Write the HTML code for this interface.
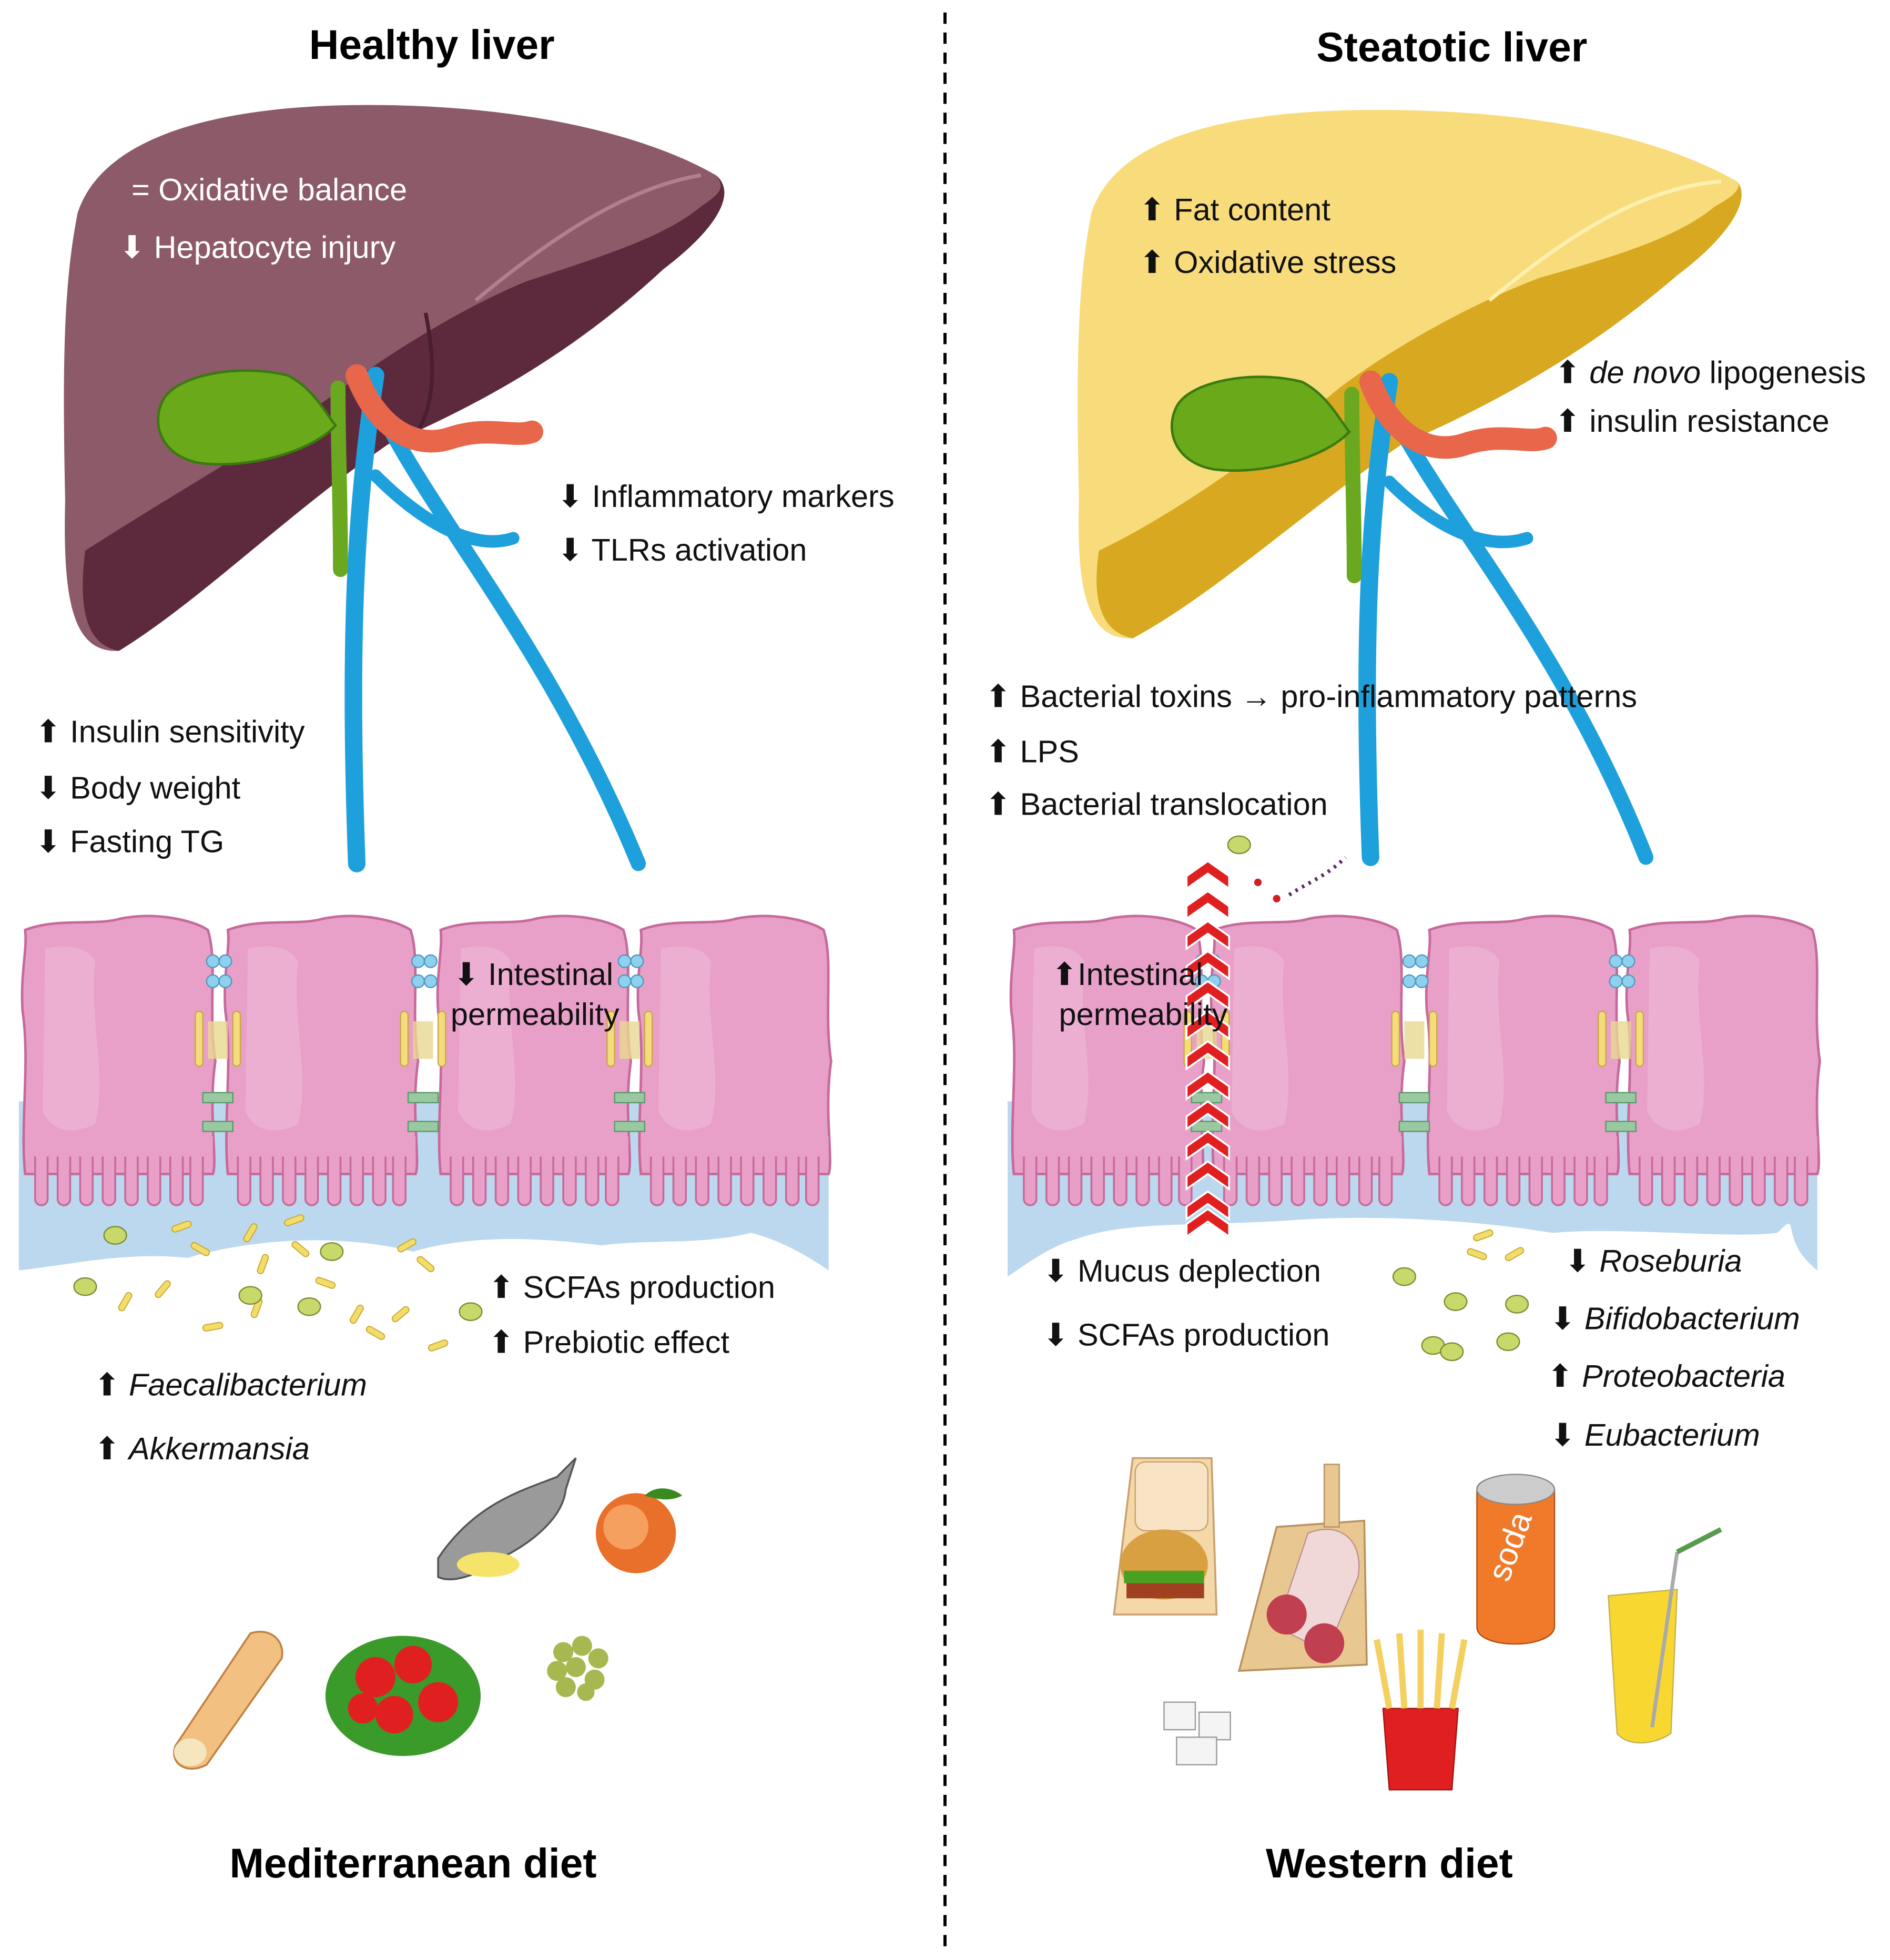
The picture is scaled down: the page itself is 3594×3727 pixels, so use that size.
<!DOCTYPE html>
<html><head><meta charset="utf-8"><style>
html,body{margin:0;padding:0;background:#fff}
svg{display:block}
text{font-family:"Liberation Sans",sans-serif}
</style></head><body>
<svg width="3594" height="3727" viewBox="0 0 1510 1566" xmlns="http://www.w3.org/2000/svg">
<defs>
<g id="cell">
<path d="M4,15 C30,5 60,12 80,6 C110,0 140,8 150,15 C158,40 150,80 156,120 C150,160 158,200 154,210 L4,210 C0,170 8,120 2,80 C0,50 6,30 4,15Z" fill="#e8a0c8" stroke="#c66a9a" stroke-width="2"/>
<path d="M20,30 C40,25 55,30 60,40 C55,90 70,130 60,170 C40,180 25,175 18,160Z" fill="#eeb4d4" opacity="0.7"/>
<g fill="#e8a0c8" stroke="#c66a9a" stroke-width="1.5">
<rect x="12" y="190" width="10" height="45" rx="5"/><rect x="30" y="190" width="10" height="45" rx="5"/><rect x="48" y="190" width="10" height="45" rx="5"/><rect x="66" y="190" width="10" height="45" rx="5"/><rect x="84" y="190" width="10" height="45" rx="5"/><rect x="102" y="190" width="10" height="45" rx="5"/><rect x="120" y="190" width="10" height="45" rx="5"/><rect x="136" y="190" width="10" height="45" rx="5"/>
</g>
<rect x="4" y="180" width="150" height="16" fill="#e8a0c8"/>
</g>
<g id="junc">
<circle cx="-4" cy="40" r="5" fill="#8fd0ee" stroke="#4a9ac0"/><circle cx="6" cy="40" r="5" fill="#8fd0ee" stroke="#4a9ac0"/>
<circle cx="-4" cy="56" r="5" fill="#8fd0ee" stroke="#4a9ac0"/><circle cx="6" cy="56" r="5" fill="#8fd0ee" stroke="#4a9ac0"/>
<rect x="-18" y="80" width="6" height="44" rx="3" fill="#f4dc7c" stroke="#c8a840"/>
<rect x="12" y="80" width="6" height="44" rx="3" fill="#f4dc7c" stroke="#c8a840"/>
<rect x="-8" y="88" width="16" height="30" fill="#e8d890" opacity="0.8"/>
<rect x="-12" y="145" width="24" height="8" fill="#9ac8a0" stroke="#5a9a6a"/>
<rect x="-12" y="168" width="24" height="8" fill="#9ac8a0" stroke="#5a9a6a"/>
</g>
<g id="rod"><rect x="-8" y="-2.5" width="16" height="5" rx="2.5" fill="#f2dc6a" stroke="#c8a830" stroke-width="0.8"/></g>
<g id="cocc"><ellipse rx="9" ry="7" fill="#c8d86a" stroke="#7a8a30" stroke-width="1"/></g>
<g id="chev"><path d="M0,12 L17,0 L34,12 L34,22 L17,10 L0,22Z" fill="#e02020" stroke="#fff" stroke-width="1.5"/></g>
</defs>

<line x1="755" y1="10" x2="755" y2="1560" stroke="#000" stroke-width="2.5" stroke-dasharray="9,7"/>

<text x="345" y="47" font-size="33" font-weight="bold" text-anchor="middle">Healthy liver</text>
<text x="1160" y="49" font-size="33" font-weight="bold" text-anchor="middle">Steatotic liver</text>

<!-- left liver -->
<path d="M62,170 C85,100 200,82 310,84 C430,86 520,110 572,140 C590,155 570,185 530,215 C460,280 390,320 310,355 C230,410 160,480 95,520 C58,522 50,480 52,400 C50,300 50,230 62,170Z" fill="#8c5a68"/>
<path d="M310,355 C230,410 160,480 95,520 C70,515 62,490 68,440 C130,400 200,360 260,320 C300,290 360,250 420,225 C480,205 530,190 560,165 C575,155 580,150 572,140 C590,155 570,185 530,215 C460,280 390,320 310,355Z" fill="#5c2a3c"/>
<path d="M380,240 C440,190 500,150 560,140" stroke="#b08090" stroke-width="3" fill="none"/>
<path d="M340,250 C350,300 345,330 330,350" stroke="#4a1e2e" stroke-width="3" fill="none"/>
<g fill="none" stroke-linecap="round">
<path d="M300,300 C285,400 278,500 285,690" stroke="#1ea0dc" stroke-width="14"/>
<path d="M305,330 C350,420 440,520 510,690" stroke="#1ea0dc" stroke-width="12"/>
<path d="M300,380 C340,420 380,440 410,430" stroke="#1ea0dc" stroke-width="10"/>
<path d="M270,310 C270,360 272,400 272,455" stroke="#6aa820" stroke-width="12"/>
<path d="M285,300 C300,340 330,360 360,350 C390,340 410,350 425,345" stroke="#e8664a" stroke-width="18"/>
</g>
<path d="M130,320 C140,300 190,290 230,300 C250,310 260,330 268,340 C250,360 200,375 160,370 C130,365 120,340 130,320Z" fill="#6aaa1a" stroke="#3a7a10" stroke-width="2"/>

<!-- right liver -->
<path d="M872,170 C895,100 1010,86 1120,88 C1240,90 1330,112 1388,145 C1400,160 1380,190 1340,220 C1270,280 1200,320 1120,355 C1040,410 970,475 905,510 C868,512 860,470 862,400 C860,300 860,230 872,170Z" fill="#f8dc7c"/>
<path d="M1120,355 C1040,410 970,475 905,510 C880,505 872,480 878,440 C940,410 1010,360 1070,310 C1110,280 1170,245 1230,222 C1290,205 1340,190 1370,165 C1385,157 1392,150 1388,145 C1400,160 1380,190 1340,220 C1270,280 1200,320 1120,355Z" fill="#d8a820"/>
<path d="M1190,240 C1250,190 1310,150 1375,145" stroke="#fff0b0" stroke-width="3" fill="none"/>
<g fill="none" stroke-linecap="round">
<path d="M1110,305 C1095,400 1088,500 1095,685" stroke="#1ea0dc" stroke-width="14"/>
<path d="M1115,335 C1160,420 1250,520 1315,685" stroke="#1ea0dc" stroke-width="12"/>
<path d="M1110,385 C1150,425 1190,440 1220,430" stroke="#1ea0dc" stroke-width="10"/>
<path d="M1080,315 C1080,365 1082,405 1082,460" stroke="#6aa820" stroke-width="12"/>
<path d="M1095,305 C1110,345 1140,365 1170,355 C1200,345 1220,355 1235,350" stroke="#e8664a" stroke-width="18"/>
</g>
<path d="M940,325 C950,305 1000,295 1040,305 C1060,315 1070,335 1078,345 C1060,365 1010,380 970,375 C940,370 930,345 940,325Z" fill="#6aaa1a" stroke="#3a7a10" stroke-width="2"/>

<g font-size="25" fill="#fff">
<text x="105" y="160">=  Oxidative balance</text>
<text x="95" y="206">⬇ Hepatocyte injury</text>
</g>
<g font-size="25" fill="#111">
<text x="445" y="405">⬇ Inflammatory markers</text>
<text x="445" y="448">⬇ TLRs activation</text>
<text x="28" y="593">⬆ Insulin sensitivity</text>
<text x="28" y="638">⬇ Body weight</text>
<text x="28" y="681">⬇ Fasting TG</text>
<text x="910" y="176">⬆ Fat content</text>
<text x="910" y="218">⬆ Oxidative stress</text>
<text x="1242" y="306">⬆ <tspan font-style="italic">de novo</tspan> lipogenesis</text>
<text x="1242" y="345">⬆ insulin resistance</text>
<text x="787" y="565">⬆ Bacterial toxins → pro-inflammatory patterns</text>
<text x="787" y="609">⬆ LPS</text>
<text x="787" y="651">⬆ Bacterial translocation</text>
</g>

<path d="M15,880 L662,880 L662,1015 C640,1000 620,990 600,985 C560,995 520,990 480,995 C440,990 380,985 330,1000 C270,985 200,990 150,1005 C100,1000 60,1010 15,1015Z" fill="#bcd8ee"/>
<use href="#cell" x="16" y="728"/><use href="#cell" x="178" y="728"/><use href="#cell" x="348" y="728"/><use href="#cell" x="508" y="728"/>
<use href="#junc" x="174" y="728"/><use href="#junc" x="338" y="728"/><use href="#junc" x="503" y="728"/>
<path d="M805,880 L1452,880 L1452,1015 C1420,990 1440,965 1420,985 C1380,990 1300,980 1240,985 C1180,975 1100,970 1030,975 C960,980 900,975 860,990 C840,995 820,1010 805,1020Z" fill="#bcd8ee"/>
<use href="#cell" x="806" y="728"/><use href="#cell" x="966" y="728"/><use href="#cell" x="1138" y="728"/><use href="#cell" x="1298" y="728"/>
<use href="#junc" x="964" y="728"/><use href="#junc" x="1130" y="728"/><use href="#junc" x="1295" y="728"/>

<g>
<use href="#chev" x="948" y="688"/><use href="#chev" x="948" y="712"/><use href="#chev" x="948" y="736"/><use href="#chev" x="948" y="760"/><use href="#chev" x="948" y="784"/><use href="#chev" x="948" y="808"/><use href="#chev" x="948" y="832"/><use href="#chev" x="948" y="856"/><use href="#chev" x="948" y="880"/><use href="#chev" x="948" y="904"/><use href="#chev" x="948" y="928"/><use href="#chev" x="948" y="952"/><use href="#chev" x="948" y="966"/>
</g>
<circle cx="1005" cy="705" r="3" fill="#d02020"/><circle cx="1020" cy="718" r="3" fill="#d02020"/>
<path d="M1030,715 C1045,705 1060,700 1075,685" stroke="#5a2a6a" stroke-width="3" stroke-dasharray="2,4" fill="none"/>
<use href="#cocc" x="990" y="675"/>

<g font-size="25" fill="#111">
<text x="362" y="787">⬇ Intestinal</text>
<text x="360" y="819">permeability</text>
<text x="840" y="787">⬆Intestinal</text>
<text x="846" y="819">permeability</text>
<text x="390" y="1037">⬆ SCFAs production</text>
<text x="390" y="1081">⬆ Prebiotic effect</text>
<text x="75" y="1115">⬆ <tspan font-style="italic">Faecalibacterium</tspan></text>
<text x="75" y="1166">⬆ <tspan font-style="italic">Akkermansia</tspan></text>
<text x="833" y="1024">⬇ Mucus deplection</text>
<text x="833" y="1075">⬇ SCFAs production</text>
<g font-style="italic">
<text x="1250" y="1016"><tspan font-style="normal">⬇ </tspan>Roseburia</text>
<text x="1238" y="1062"><tspan font-style="normal">⬇ </tspan>Bifidobacterium</text>
<text x="1236" y="1108"><tspan font-style="normal">⬆ </tspan>Proteobacteria</text>
<text x="1238" y="1155"><tspan font-style="normal">⬇ </tspan>Eubacterium</text>
</g>
</g>

<g>
<use href="#rod" transform="translate(145,980) rotate(-20)"/><use href="#rod" transform="translate(160,998) rotate(30)"/><use href="#rod" transform="translate(200,985) rotate(-60)"/><use href="#rod" transform="translate(235,975) rotate(-20)"/><use href="#rod" transform="translate(240,998) rotate(40)"/><use href="#rod" transform="translate(210,1010) rotate(-70)"/><use href="#rod" transform="translate(260,1025) rotate(20)"/><use href="#rod" transform="translate(325,995) rotate(-30)"/><use href="#rod" transform="translate(340,1010) rotate(40)"/><use href="#rod" transform="translate(100,1040) rotate(-60)"/><use href="#rod" transform="translate(130,1030) rotate(-50)"/><use href="#rod" transform="translate(170,1060) rotate(-10)"/><use href="#rod" transform="translate(285,1050) rotate(-60)"/><use href="#rod" transform="translate(300,1065) rotate(30)"/><use href="#rod" transform="translate(320,1050) rotate(-40)"/><use href="#rod" transform="translate(350,1075) rotate(-20)"/><use href="#rod" transform="translate(205,1045) rotate(-70)"/>
<use href="#cocc" x="92" y="987"/><use href="#cocc" x="265" y="1000"/><use href="#cocc" x="68" y="1028"/><use href="#cocc" x="200" y="1035"/><use href="#cocc" x="247" y="1044"/><use href="#cocc" x="376" y="1048"/>
</g>
<g>
<use href="#rod" transform="translate(1185,987) rotate(-20)"/><use href="#rod" transform="translate(1210,1002) rotate(-30)"/><use href="#rod" transform="translate(1180,1002) rotate(20)"/>
<use href="#cocc" x="1122" y="1020"/><use href="#cocc" x="1163" y="1040"/><use href="#cocc" x="1212" y="1042"/><use href="#cocc" x="1145" y="1075"/><use href="#cocc" x="1160" y="1080"/><use href="#cocc" x="1205" y="1072"/>
</g>

<path d="M350,1245 C380,1200 420,1190 445,1180 L460,1165 L452,1190 C450,1210 430,1230 400,1245 C380,1260 360,1265 350,1260Z" fill="#9a9a9a" stroke="#555" stroke-width="1.5"/>
<ellipse cx="390" cy="1250" rx="25" ry="10" fill="#f6e36a"/>
<circle cx="508" cy="1225" r="32" fill="#e8702a"/><circle cx="500" cy="1220" r="18" fill="#f6a060"/><path d="M515,1195 C525,1185 540,1190 545,1195 C535,1200 525,1198 515,1195Z" fill="#3a8a20"/>
<path d="M140,1395 L200,1305 C215,1300 228,1310 225,1325 L165,1410 C150,1418 135,1410 140,1395Z" fill="#f2c080" stroke="#c08040" stroke-width="1.5"/>
<ellipse cx="152" cy="1400" rx="13" ry="11" fill="#f6e6c0"/>
<ellipse cx="322" cy="1355" rx="62" ry="48" fill="#3a9a2a"/>
<g fill="#e02020"><circle cx="300" cy="1340" r="16"/><circle cx="330" cy="1330" r="15"/><circle cx="350" cy="1360" r="16"/><circle cx="315" cy="1370" r="15"/><circle cx="290" cy="1365" r="12"/></g>
<g fill="#a8b850"><circle cx="450" cy="1320" r="8"/><circle cx="465" cy="1315" r="8"/><circle cx="478" cy="1325" r="8"/><circle cx="445" cy="1335" r="8"/><circle cx="460" cy="1332" r="8"/><circle cx="475" cy="1342" r="8"/><circle cx="452" cy="1348" r="8"/><circle cx="468" cy="1352" r="7"/></g>

<path d="M890,1290 L905,1165 L968,1165 L972,1290 Z" fill="#f4d8a8" stroke="#c8a070" stroke-width="1.5"/>
<rect x="907" y="1168" width="58" height="55" rx="8" fill="#f8e4c4" stroke="#c8a070"/>
<ellipse cx="930" cy="1250" rx="35" ry="28" fill="#d8a040"/><rect x="898" y="1255" width="64" height="10" fill="#4aa020"/><rect x="900" y="1265" width="62" height="12" fill="#a04020"/>
<path d="M990,1335 L1020,1220 L1090,1215 L1092,1330 Z" fill="#e8c890" stroke="#b89060" stroke-width="1.5"/>
<rect x="1058" y="1170" width="12" height="50" fill="#e8c890" stroke="#b89060"/>
<path d="M1020,1300 L1045,1225 C1070,1215 1090,1230 1085,1260 L1060,1320Z" fill="#f0d8d8" stroke="#c09090"/>
<circle cx="1028" cy="1290" r="16" fill="#c04050"/><circle cx="1058" cy="1313" r="16" fill="#c04050"/>
<path d="M1180,1190 C1180,1175 1240,1175 1242,1190 L1242,1300 C1240,1318 1180,1318 1180,1300Z" fill="#f07a2a" stroke="#b04a10"/>
<ellipse cx="1211" cy="1190" rx="31" ry="12" fill="#ccc" stroke="#888"/>
<text x="1205" y="1265" font-size="26" fill="#fff" transform="rotate(-70 1205 1265)">soda</text>
<path d="M1105,1365 L1165,1365 L1160,1430 L1110,1430Z" fill="#e02020" stroke="#a01010"/>
<g stroke="#f4d060" stroke-width="5"><line x1="1110" y1="1365" x2="1100" y2="1310"/><line x1="1122" y1="1365" x2="1118" y2="1305"/><line x1="1135" y1="1365" x2="1135" y2="1302"/><line x1="1148" y1="1365" x2="1152" y2="1305"/><line x1="1160" y1="1365" x2="1170" y2="1310"/></g>
<path d="M1285,1275 L1340,1270 L1335,1385 C1320,1395 1300,1395 1292,1385Z" fill="#f8d830" stroke="#c0b050"/>
<line x1="1320" y1="1380" x2="1340" y2="1240" stroke="#aaa" stroke-width="3"/><line x1="1340" y1="1240" x2="1375" y2="1222" stroke="#5a9a50" stroke-width="4"/>
<g fill="#f4f4f4" stroke="#999"><rect x="930" y="1360" width="25" height="22"/><rect x="958" y="1368" width="25" height="22"/><rect x="940" y="1388" width="32" height="22"/></g>

<text x="330" y="1500" font-size="33" font-weight="bold" text-anchor="middle">Mediterranean diet</text>
<text x="1110" y="1500" font-size="33" font-weight="bold" text-anchor="middle">Western diet</text>
</svg>
</body></html>
